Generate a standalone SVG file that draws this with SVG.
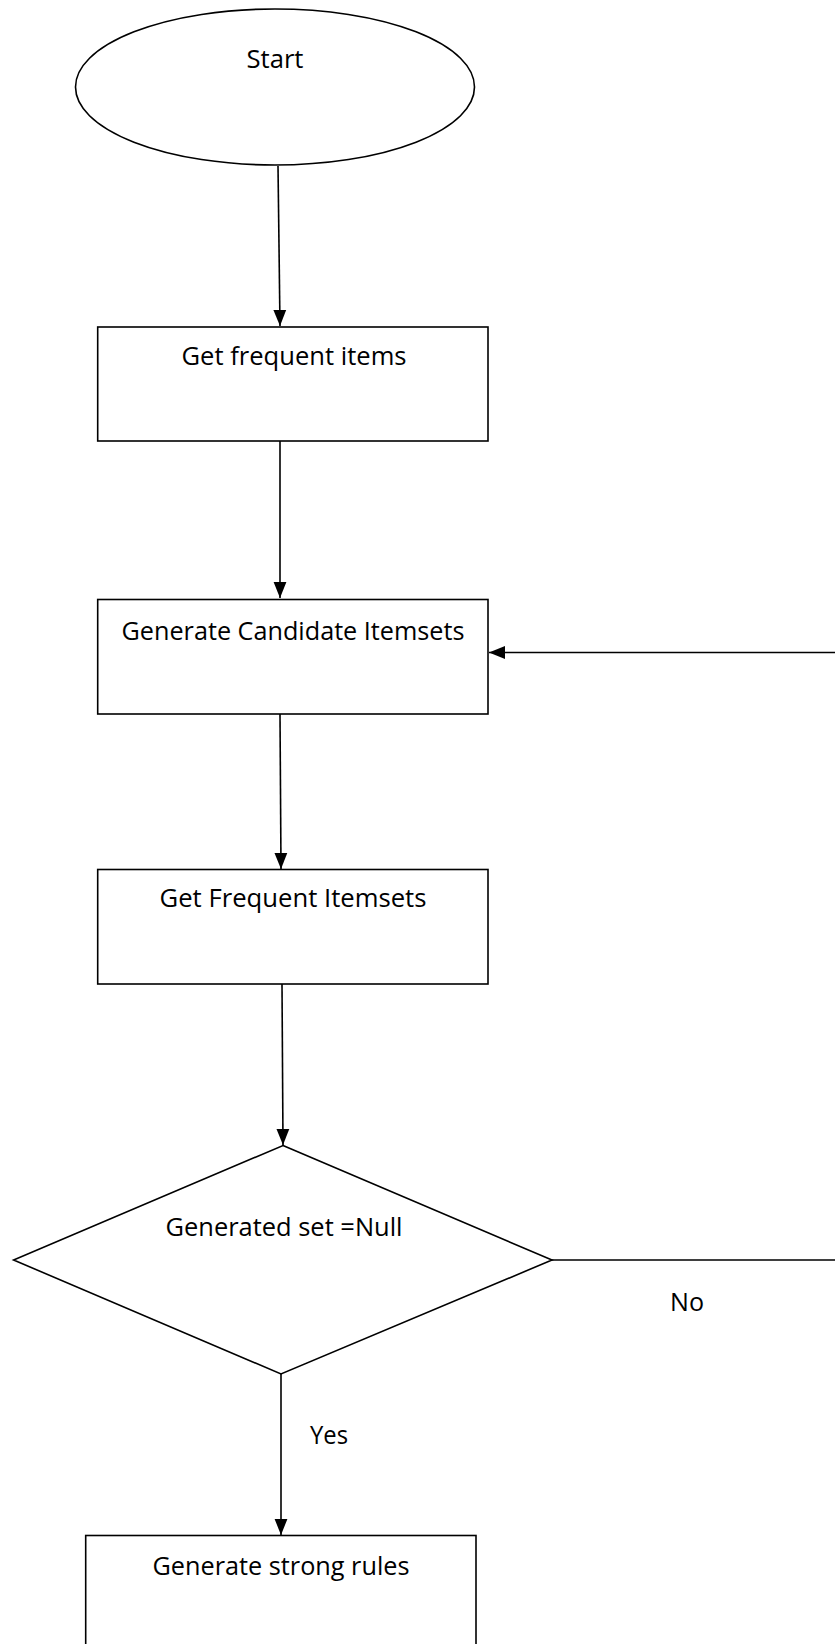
<svg xmlns="http://www.w3.org/2000/svg" width="835" height="1644" viewBox="0 0 835 1644">
<style>
.shape{fill:#fff;stroke:#000;stroke-width:1.6}
.conn{fill:none;stroke:#000;stroke-width:1.6}
.lbl{font-family:"Open Sans","Noto Sans","Liberation Sans",sans-serif;font-size:25px;fill:#000;text-anchor:middle}
</style>
<defs>
<marker id="arr" markerUnits="userSpaceOnUse" markerWidth="16" markerHeight="14" viewBox="0 0 15 12" refX="15" refY="6" orient="auto">
<path d="M0,0 L15,6 L0,12 Z" fill="#000"/>
</marker>
</defs>
<g id="connectors">
<path class="conn" d="M278,166 L280,326" marker-end="url(#arr)"/>
<path class="conn" d="M280,437 L280,598" marker-end="url(#arr)"/>
<path class="conn" d="M280,714 L281,869" marker-end="url(#arr)"/>
<path class="conn" d="M282,984 L283,1145" marker-end="url(#arr)"/>
<path class="conn" d="M281,1374 L281,1535" marker-end="url(#arr)"/>
<path class="conn" d="M552,1260 H842 V652.5 H489" marker-end="url(#arr)"/>
</g>
<g id="start">
<ellipse class="shape" cx="275" cy="87" rx="199.5" ry="78"/>
<text class="lbl" x="275" y="68" textLength="57" lengthAdjust="spacingAndGlyphs">Start</text>
</g>
<g id="get-frequent-items">
<rect class="shape" x="97.7" y="327" width="390.3" height="114"/>
<text class="lbl" x="294" y="365" textLength="225" lengthAdjust="spacingAndGlyphs">Get frequent items</text>
</g>
<g id="generate-candidate">
<rect class="shape" x="97.7" y="599.5" width="390.3" height="114.5"/>
<text class="lbl" x="293" y="640" textLength="343" lengthAdjust="spacingAndGlyphs">Generate Candidate Itemsets</text>
</g>
<g id="get-frequent-itemsets">
<rect class="shape" x="97.7" y="869.5" width="390.3" height="114.5"/>
<text class="lbl" x="293" y="907" textLength="267" lengthAdjust="spacingAndGlyphs">Get Frequent Itemsets</text>
</g>
<g id="decision">
<polygon class="shape" points="283,1145.5 552,1260 281,1374 13.6,1260"/>
<text class="lbl" x="284" y="1236" textLength="237" lengthAdjust="spacingAndGlyphs">Generated set =Null</text>
</g>
<g id="label-no">
<text class="lbl" x="687" y="1311" textLength="34" lengthAdjust="spacingAndGlyphs">No</text>
</g>
<g id="label-yes">
<text class="lbl" x="329" y="1444" textLength="38" lengthAdjust="spacingAndGlyphs">Yes</text>
</g>
<g id="generate-strong-rules">
<rect class="shape" x="85.7" y="1535.5" width="390.3" height="130"/>
<text class="lbl" x="281" y="1575" textLength="257" lengthAdjust="spacingAndGlyphs">Generate strong rules</text>
</g>
</svg>
